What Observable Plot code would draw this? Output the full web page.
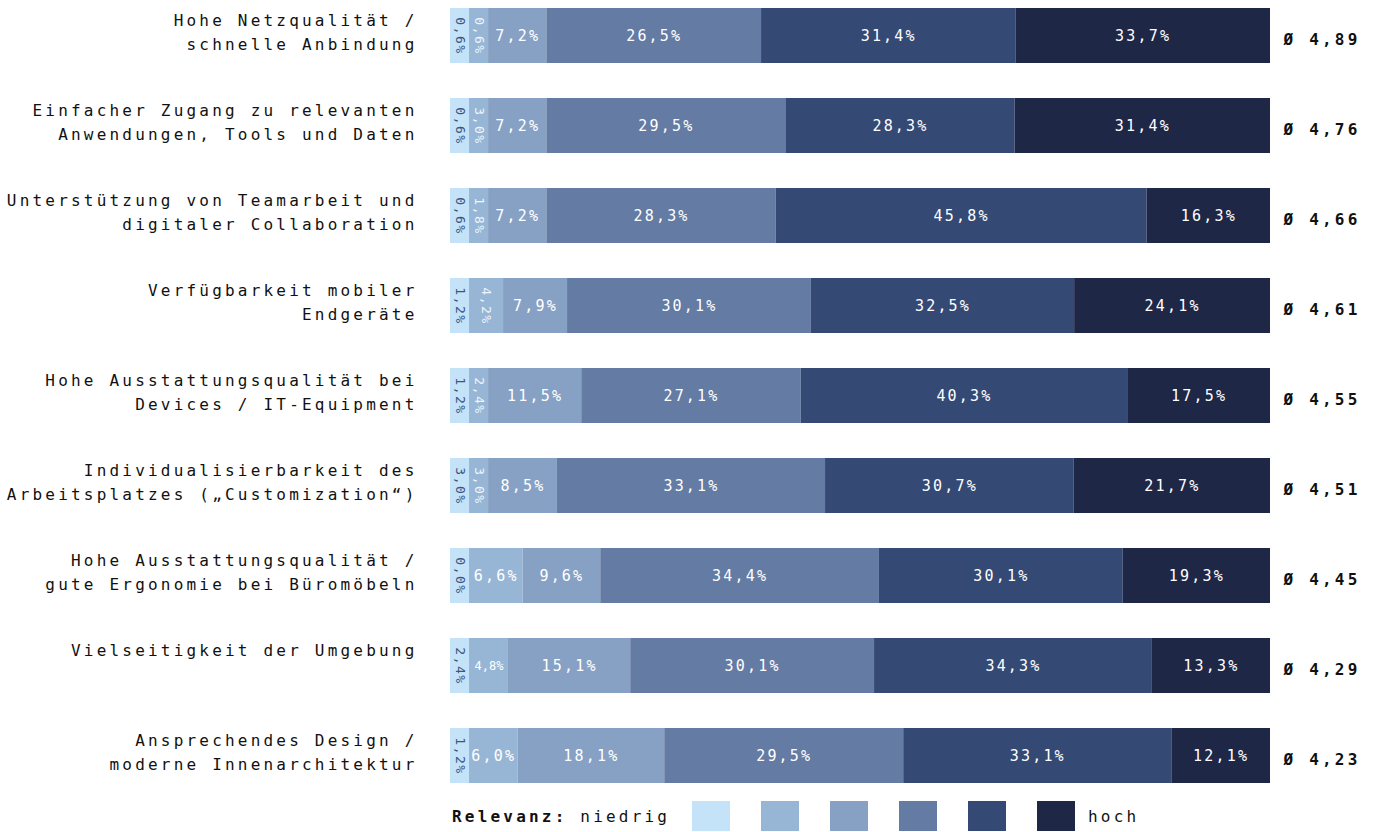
<!DOCTYPE html>
<html><head><meta charset="utf-8">
<script src="https://cdn.jsdelivr.net/npm/d3@7"></script>
<script src="https://cdn.jsdelivr.net/npm/@observablehq/plot@0.6"></script>
<style>
body{margin:0;background:#fff;}
#chart svg text{letter-spacing:3.2px;}
#chart g[font-size="15"] text{letter-spacing:2.2px;}
#chart g[font-size="12"] text{letter-spacing:0px;}
#chart g[font-size="13"] text{letter-spacing:1.5px;}
#legend{position:relative;height:37px;font-family:"DejaVu Sans Mono",monospace;font-size:16px;letter-spacing:3.2px;color:#111;}
#legend .lab{position:absolute;left:452px;top:12px;white-space:pre;}
#legend .sw{position:absolute;left:692px;top:6px;display:flex;align-items:center;gap:31px;}
#legend .sw span.box{display:block;width:38px;height:30px;}
#legend .sw span.txt{margin-left:-18px;}
</style></head><body><div id="chart"></div><div id="legend"></div>
<script>
const categories = [
  "Hohe Netzqualität /\nschnelle Anbindung",
  "Einfacher Zugang zu relevanten\nAnwendungen, Tools und Daten",
  "Unterstützung von Teamarbeit und\ndigitaler Collaboration",
  "Verfügbarkeit mobiler\nEndgeräte",
  "Hohe Ausstattungsqualität bei\nDevices / IT-Equipment",
  "Individualisierbarkeit des\nArbeitsplatzes („Customization“)",
  "Hohe Ausstattungsqualität /\ngute Ergonomie bei Büromöbeln",
  "Vielseitigkeit der Umgebung",
  "Ansprechendes Design /\nmoderne Innenarchitektur"
];
const relevance1 = [0.6, 0.6, 0.6, 1.2, 1.2, 3.0, 0.0, 2.4, 1.2];
const relevance2 = [0.6, 3.0, 1.8, 4.2, 2.4, 3.0, 6.6, 4.8, 6.0];
const relevance3 = [7.2, 7.2, 7.2, 7.9, 11.5, 8.5, 9.6, 15.1, 18.1];
const relevance4 = [26.5, 29.5, 28.3, 30.1, 27.1, 33.1, 34.4, 30.1, 29.5];
const relevance5 = [31.4, 28.3, 45.8, 32.5, 40.3, 30.7, 30.1, 34.3, 33.1];
const relevance6 = [33.7, 31.4, 16.3, 24.1, 17.5, 21.7, 19.3, 13.3, 12.1];
const averages = [4.89, 4.76, 4.66, 4.61, 4.55, 4.51, 4.45, 4.29, 4.23];
const levelColors = ["#c5e3f8", "#97b6d5", "#87a1c5", "#647ba3", "#344a75", "#1f2747"];
const legendTitle = "Relevanz:";
const legendLow = "niedrig";
const legendHigh = "hoch";

const series = [relevance1, relevance2, relevance3, relevance4, relevance5, relevance6];
const FULL = 101.23;   // bar end in percent units
const SMALL = 2.35;    // minimum display width for tiny shares
const fmt = v => v.toFixed(1).replace(".", ",") + "%";

const segs = [];
categories.forEach((cat, r) => {
  let x = 0;
  series.forEach((s, i) => {
    const v = s[r];
    const w = v < 4 ? SMALL : v;
    const x2 = i === series.length - 1 ? FULL : x + w;
    segs.push({cat, level: i, value: v, x1: x, x2, mid: (x + x2) / 2,
      rotated: v < 4.5, small: v >= 4.5 && v < 5.5});
    x = x2;
  });
});
const avgData = categories.map((c, i) => ({cat: c, avg: averages[i]}));

const chart = Plot.plot({
  width: 1377, height: 795,
  marginLeft: 450, marginRight: 107, marginTop: 7.5, marginBottom: 12.5,
  x: {domain: [0, FULL], axis: null},
  y: {domain: categories, axis: null, paddingInner: 0.389, paddingOuter: 0},
  style: {fontFamily: "'DejaVu Sans Mono', monospace", background: "white", overflow: "visible"},
  marks: [
    Plot.barX(segs, {y: "cat", x1: "x1", x2: "x2", fill: d => levelColors[d.level]}),
    Plot.text(segs.filter(d => !d.rotated && !d.small), {x: "mid", y: "cat", text: d => fmt(d.value), fill: "white", fontSize: 15}),
    Plot.text(segs.filter(d => d.small), {x: "mid", y: "cat", text: d => fmt(d.value), fill: "white", fontSize: 12}),
    Plot.text(segs.filter(d => d.rotated), {x: "mid", y: "cat", text: d => fmt(d.value), rotate: 90, fontSize: 13,
      fill: d => d.level === 0 ? "#3b5582" : "#eef4fb"}),
    Plot.text(categories, {y: d => d, frameAnchor: "left", dx: -33, dy: -27, textAnchor: "end", lineAnchor: "top",
      lineHeight: 1.5, fontSize: 16, fill: "#111"}),
    Plot.text(avgData, {y: "cat", frameAnchor: "right", dx: 13, dy: 4, textAnchor: "start",
      text: d => "Ø " + d.avg.toFixed(2).replace(".", ","), fontSize: 16, fontWeight: "bold", fill: "#111"})
  ]
});
document.getElementById("chart").appendChild(chart);

const legend = document.getElementById("legend");
const lab = document.createElement("div");
lab.className = "lab";
lab.innerHTML = "<b>" + legendTitle + "</b> " + legendLow;
legend.appendChild(lab);
const sw = document.createElement("div");
sw.className = "sw";
levelColors.forEach(c => {
  const b = document.createElement("span");
  b.className = "box"; b.style.background = c; sw.appendChild(b);
});
const hi = document.createElement("span");
hi.className = "txt"; hi.textContent = legendHigh; sw.appendChild(hi);
legend.appendChild(sw);
</script>
</body></html>
